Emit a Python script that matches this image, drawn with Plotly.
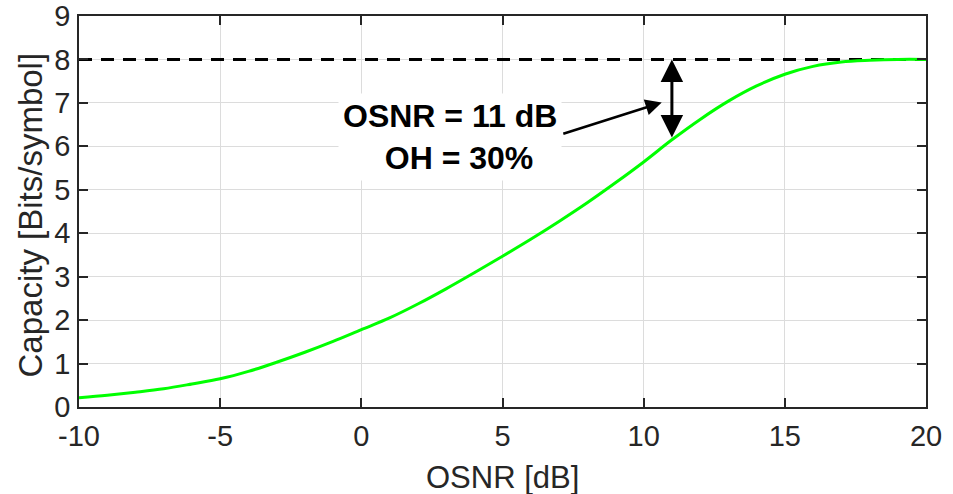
import plotly.graph_objects as go

# Data
osnr_db = [-10, -9, -8, -7, -6, -5, -4, -3, -2, -1, 0, 1, 2, 3, 4, 5, 6, 7, 8, 9,
           10, 11, 12, 13, 14, 15, 16, 17, 18, 19, 20]
capacity = [0.21, 0.27, 0.34, 0.42, 0.53, 0.65, 0.82, 1.03, 1.26, 1.51, 1.78, 2.05,
            2.37, 2.72, 3.09, 3.47, 3.86, 4.27, 4.70, 5.16, 5.64, 6.15, 6.62, 7.04,
            7.39, 7.66, 7.84, 7.94, 7.98, 8.00, 8.00]
max_capacity = 8
x_ticks = [-10, -5, 0, 5, 10, 15, 20]
y_ticks = [0, 1, 2, 3, 4, 5, 6, 7, 8, 9]
x_title = "OSNR [dB]"
y_title = "Capacity [Bits/symbol]"
marker_osnr = 11
marker_cap = 6.17
note_lines = ["OSNR = 11 dB", "\u00a0\u00a0OH = 30%"]
note_pos = (3.14, 6.21)
pointer_tail = (7.10, 6.28)
pointer_tip = (10.64, 7.01)

FONT = "Liberation Sans, Arial, Helvetica, sans-serif"
AX = "#262626"

fig = go.Figure()
fig.add_trace(go.Scatter(x=[osnr_db[0], osnr_db[-1]], y=[max_capacity, max_capacity],
                         mode="lines", line=dict(color="black", width=3, dash="13px,9px"),
                         showlegend=False, hoverinfo="skip"))
fig.add_trace(go.Scatter(x=osnr_db, y=capacity, mode="lines",
                         line=dict(color="#00FF00", width=3, shape="spline", smoothing=1.0),
                         showlegend=False))

# text box
fig.add_annotation(x=note_pos[0], y=note_pos[1], xref="x", yref="y",
                   text="<b>" + "<br>".join(note_lines) + "</b>", showarrow=False,
                   font=dict(family=FONT, size=32, color="black"),
                   bgcolor="white", borderpad=4, align="center")
# pointer arrow
fig.add_annotation(x=pointer_tip[0], y=pointer_tip[1], ax=pointer_tail[0], ay=pointer_tail[1],
                   xref="x", yref="y", axref="x", ayref="y", text="",
                   showarrow=True, arrowhead=2, arrowsize=1.3, arrowwidth=2.5, arrowcolor="black")
# double arrow
fig.add_annotation(x=marker_osnr, y=max_capacity, ax=marker_osnr, ay=marker_cap,
                   xref="x", yref="y", axref="x", ayref="y", text="",
                   showarrow=True, arrowhead=2, startarrowhead=2, arrowside="end+start",
                   arrowsize=1.5, startarrowsize=1.5, arrowwidth=3, arrowcolor="black")

# axis titles
fig.add_annotation(x=0.5, y=0, xref="paper", yref="paper", text=x_title, showarrow=False,
                   xanchor="center", yanchor="middle", yshift=-70,
                   font=dict(family=FONT, size=31, color=AX))
fig.add_annotation(x=0, y=0.5, xref="paper", yref="paper", text=y_title, showarrow=False,
                   textangle=-90, xanchor="center", yanchor="middle", xshift=-49, yshift=-4,
                   font=dict(family=FONT, size=33, color=AX))

axis_common = dict(showgrid=True, gridcolor="#DCDCDC", gridwidth=1, zeroline=False,
                   showline=True, linecolor=AX, linewidth=1.5, mirror="ticks",
                   ticks="inside", ticklen=9, tickwidth=1.5, tickcolor=AX, automargin=False,
                   tickfont=dict(family=FONT, size=29, color=AX))
fig.update_xaxes(range=[-10, 20], tickvals=x_ticks, ticktext=[str(v) for v in x_ticks],
                 ticklabelstandoff=2, **axis_common)
fig.update_yaxes(range=[0, 9], tickvals=y_ticks, ticktext=[str(v) for v in y_ticks],
                 ticklabelstandoff=1, **axis_common)
fig.update_layout(width=953, height=494, margin=dict(l=79, r=27, t=16, b=87),
                  plot_bgcolor="white", paper_bgcolor="white", showlegend=False)
fig.write_html("out.html", config={"displayModeBar": False},
               post_script="document.body.style.margin='0';document.body.style.padding='0';")
